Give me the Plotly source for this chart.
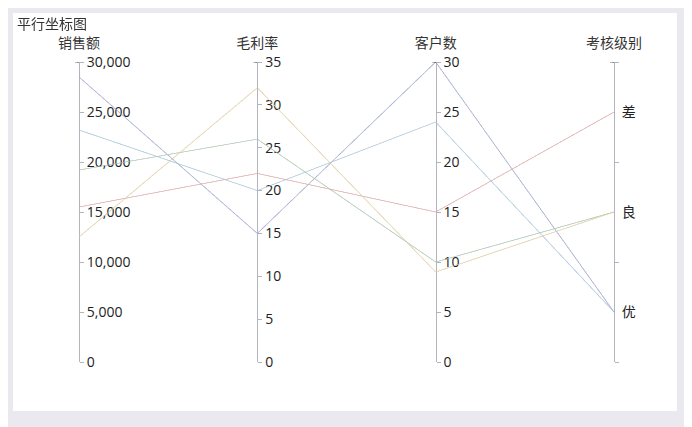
import plotly.graph_objects as go

# 平行坐标图 data (one row per line)
dim_labels = ["销售额", "毛利率", "客户数", "考核级别"]
sales = [28500, 23200, 19200, 15500, 12500]
margin_rate = [15, 20, 26, 22, 32]
customers = [30, 24, 10, 15, 9]
grade = [1, 1, 2, 3, 2]  # 1=优 2=良 3=差
line_idx = [0, 1, 2, 3, 4]

grade_labels = ["优", "良", "差"]
colors = ["#a3acdf", "#a9d4f2", "#acd6b4", "#f5a9a9", "#fbe0a0"]

sales_ticks = [0, 5000, 10000, 15000, 20000, 25000, 30000]
rate_ticks = [0, 5, 10, 15, 20, 25, 30, 35]
cust_ticks = [0, 5, 10, 15, 20, 25, 30]

font_name = "Open Sans, Noto Sans CJK SC"
cjk_font = "Noto Sans CJK SC"
axis_grey = "#b4b4bc"

ranges = [[0, 30000], [0, 35], [0, 30], [0.5, 3.5]]
values = [sales, margin_rate, customers, grade]

# plot area in figure px
T, B = 30, 360
H = B - T
pad = 2  # parcoords internal vertical padding

scale = [[i / 4, c] for i, c in enumerate(colors)]

fig = go.Figure()
fig.add_trace(
    go.Parcoords(
        domain=dict(x=[0, 1], y=[4 / H, 308 / H]),
        line=dict(color=line_idx, colorscale=scale, cmin=0, cmax=4),
        dimensions=[
            dict(label="", values=v, range=r, tickvals=[r[1]], ticktext=[""])
            for v, r in zip(values, ranges)
        ],
        labelfont=dict(size=1, color="rgba(0,0,0,0)"),
        tickfont=dict(size=1, color="rgba(0,0,0,0)"),
        rangefont=dict(size=1, color="rgba(0,0,0,0)"),
    )
)

# empty traces so the overlay axes are drawn
for i in range(4):
    fig.add_trace(go.Scatter(x=[], y=[], xaxis="x", yaxis="y" if i == 0 else f"y{i + 1}",
                             showlegend=False, hoverinfo="skip"))

ydom = [(4 + pad) / H, (308 - pad) / H]
tick_common = dict(
    anchor="free", side="right", domain=ydom, showgrid=False, zeroline=False,
    showline=True, linecolor=axis_grey, linewidth=1,
    ticks="outside", ticklen=4, tickcolor=axis_grey, tickwidth=1,
    tickfont=dict(family=font_name, size=14, color="#222"), fixedrange=True,
)

fig.update_layout(
    yaxis=dict(range=ranges[0], position=0, tickvals=sales_ticks, tickformat=",", **tick_common),
    yaxis2=dict(range=ranges[1], position=1 / 3, overlaying="y", tickvals=rate_ticks, **tick_common),
    yaxis3=dict(range=ranges[2], position=2 / 3, overlaying="y", tickvals=cust_ticks, **tick_common),
    yaxis4=dict(
        range=ranges[3], position=1, overlaying="y",
        **{**tick_common, "tickcolor": "rgba(0,0,0,0)",
           "tickfont": dict(family=cjk_font, size=14, color="#222")},
        tickvals=[1, 2, 3], ticktext=grade_labels,
        minor=dict(tickvals=[0.5, 1.5, 2.5, 3.5], ticks="outside", ticklen=4,
                   tickcolor=axis_grey, tickwidth=1),
    ),
    xaxis=dict(
        range=[0, 3], domain=[0, 1], side="top", anchor="free", position=317 / H,
        tickvals=[0, 1, 2, 3], ticktext=dim_labels, ticks="", showgrid=False,
        zeroline=False, showline=False, fixedrange=True,
        tickfont=dict(family=cjk_font, size=14, color="#333"),
    ),
)

# white panel on a grey page (page is offset 8px by the body margin)
L, R = 71, 606
W = R - L
fig.add_shape(type="rect", xref="paper", yref="paper", layer="below",
              x0=(5 - L) / W, x1=(669 - L) / W, y0=(B - 403) / H, y1=(B - 5) / H,
              fillcolor="white", line_width=0)

fig.update_layout(
    width=692, height=427,
    margin=dict(l=L, r=692 - R, t=T, b=427 - B),
    paper_bgcolor="#e9e9ef",
    plot_bgcolor="rgba(0,0,0,0)",
    font=dict(family=font_name),
    title=dict(text="平行坐标图", x=9 / 692, y=1 - 16 / 427, xanchor="left", yanchor="middle",
               xref="container", yref="container",
               font=dict(family=cjk_font, size=14, color="#333")),
)

fig.write_html("out.html")
